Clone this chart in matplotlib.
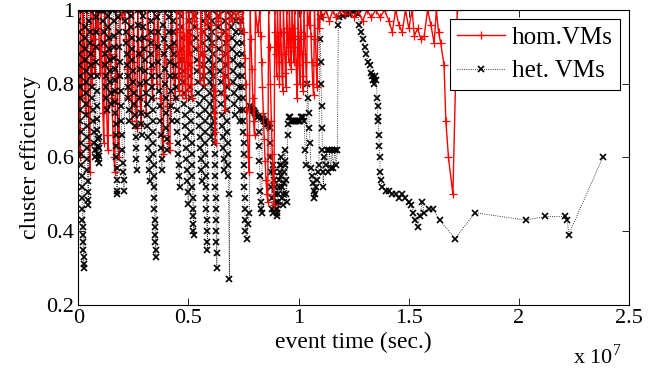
import numpy as np
import matplotlib
matplotlib.use('Agg')
import matplotlib.pyplot as plt
from matplotlib.ticker import FormatStrFormatter

plt.rcParams['font.family'] = ['Liberation Serif', 'DejaVu Serif']
plt.rcParams['mathtext.fontset'] = 'custom'
plt.rcParams['mathtext.rm'] = 'Liberation Serif'

# event time in units of 1e7 seconds, cluster efficiency
hom_early = [
    (0.000, 1.00), (0.002, 0.76), (0.004, 0.68), (0.006, 0.62), (0.008, 0.60), (0.010, 1.00),
    (0.014, 0.84), (0.018, 0.76), (0.022, 1.00), (0.026, 0.90), (0.030, 0.80), (0.034, 0.72),
    (0.038, 1.00), (0.042, 0.86), (0.046, 0.74), (0.050, 0.64), (0.053, 0.56), (0.056, 1.00),
    (0.060, 0.88), (0.064, 0.80), (0.068, 1.00), (0.072, 0.92), (0.076, 0.83), (0.080, 1.00),
    (0.085, 0.95), (0.090, 1.00), (0.095, 0.90), (0.100, 0.83), (0.104, 1.00), (0.108, 0.85),
    (0.112, 0.72), (0.116, 0.64), (0.120, 1.00), (0.124, 0.86), (0.128, 0.74), (0.132, 0.66),
    (0.136, 0.62), (0.140, 1.00), (0.146, 0.88), (0.152, 0.76), (0.158, 0.66), (0.162, 0.60),
    (0.166, 0.56), (0.170, 1.00), (0.175, 0.82), (0.180, 0.66), (0.185, 0.60), (0.190, 1.00),
    (0.200, 0.98), (0.210, 1.00), (0.218, 0.92), (0.222, 0.84), (0.226, 0.76), (0.230, 1.00),
    (0.235, 0.88), (0.240, 0.78), (0.245, 0.70), (0.250, 1.00), (0.255, 0.86), (0.260, 0.74),
    (0.265, 0.68), (0.270, 1.00), (0.275, 0.88), (0.280, 0.76), (0.285, 0.69), (0.290, 1.00),
    (0.296, 0.90), (0.302, 0.80), (0.308, 0.72), (0.314, 1.00), (0.322, 0.92), (0.330, 0.84),
    (0.338, 0.76), (0.344, 1.00), (0.350, 0.90), (0.356, 0.80), (0.362, 1.00), (0.368, 0.88),
    (0.374, 0.76), (0.380, 0.66), (0.386, 0.61), (0.392, 1.00), (0.398, 0.86), (0.404, 0.74),
    (0.410, 0.64), (0.416, 0.62), (0.422, 1.00), (0.428, 0.90), (0.434, 0.82), (0.440, 0.76),
]

hom_mid = [
    (0.446, 1.00), (0.449, 0.94), (0.452, 0.88), (0.455, 0.82), (0.458, 0.78), (0.461, 1.00),
    (0.464, 0.94), (0.467, 0.88), (0.470, 0.82), (0.473, 0.77), (0.476, 1.00), (0.479, 0.93),
    (0.482, 0.86), (0.485, 0.80), (0.488, 0.76), (0.491, 1.00), (0.494, 0.92), (0.497, 0.84),
    (0.500, 0.78), (0.503, 1.00), (0.506, 0.93), (0.509, 0.86), (0.512, 0.80), (0.515, 0.76),
    (0.518, 1.00), (0.526, 0.97), (0.534, 1.00), (0.540, 0.95), (0.544, 0.90), (0.548, 0.85),
    (0.552, 0.81), (0.556, 1.00), (0.560, 0.94), (0.564, 0.88), (0.568, 0.83), (0.572, 0.80),
    (0.576, 1.00), (0.586, 0.96), (0.596, 1.00), (0.604, 0.96), (0.608, 0.90), (0.611, 0.84),
    (0.614, 0.78), (0.617, 0.72), (0.620, 0.67), (0.623, 0.64), (0.626, 1.00), (0.636, 0.97),
    (0.646, 1.00), (0.650, 0.94), (0.654, 0.88), (0.658, 0.82), (0.662, 0.77), (0.666, 0.73),
    (0.670, 1.00), (0.674, 0.93), (0.678, 0.86), (0.682, 0.80), (0.686, 1.00), (0.696, 0.97),
    (0.706, 1.00), (0.716, 0.98), (0.726, 1.00), (0.736, 0.95), (0.746, 1.00), (0.752, 0.94),
    (0.756, 0.87), (0.760, 0.80), (0.764, 0.73), (0.768, 0.66), (0.772, 0.60), (0.776, 0.56),
    (0.780, 1.00), (0.784, 0.92), (0.788, 0.84), (0.792, 0.76), (0.796, 0.70), (0.800, 0.66),
    (0.804, 1.00), (0.814, 0.94), (0.824, 1.00), (0.828, 0.93), (0.832, 0.86), (0.836, 0.79),
    (0.840, 0.72), (0.844, 0.65), (0.848, 0.59), (0.852, 0.54), (0.856, 0.50), (0.860, 0.48),
    (0.864, 1.00), (0.868, 0.90), (0.872, 0.80), (0.876, 0.70), (0.880, 0.61), (0.884, 0.53),
    (0.888, 0.47), (0.892, 1.00), (0.895, 0.94), (0.898, 0.88), (0.901, 0.82), (0.904, 1.00),
    (0.907, 0.93), (0.910, 0.86), (0.913, 0.80), (0.916, 1.00), (0.919, 0.94), (0.922, 0.88),
    (0.925, 0.82), (0.928, 0.78), (0.931, 1.00), (0.934, 0.94), (0.937, 0.88), (0.940, 0.83),
    (0.943, 0.79), (0.946, 1.00), (0.949, 0.95), (0.952, 0.90), (0.955, 0.86), (0.958, 1.00),
    (0.961, 0.94), (0.964, 0.89), (0.967, 0.84), (0.970, 1.00), (0.973, 0.95), (0.976, 0.90),
    (0.979, 0.86), (0.982, 1.00), (0.985, 0.93), (0.988, 0.86), (0.991, 0.80), (0.994, 0.76),
    (0.997, 1.00), (1.000, 0.92), (1.003, 0.85), (1.006, 0.80), (1.009, 1.00), (1.012, 0.94),
    (1.015, 0.88), (1.018, 0.82), (1.021, 0.78), (1.024, 1.00), (1.028, 0.93), (1.032, 0.86),
    (1.036, 0.80), (1.040, 1.00), (1.046, 0.96), (1.052, 1.00), (1.056, 0.93), (1.060, 0.86),
    (1.064, 0.80), (1.068, 0.77), (1.072, 1.00), (1.076, 0.92), (1.080, 0.85), (1.084, 0.79),
    (1.088, 1.00), (1.094, 0.95), (1.100, 1.00),
]

hom_late = [
    (1.110, 0.98), (1.125, 1.00), (1.140, 0.97), (1.155, 1.00), (1.170, 0.98), (1.190, 1.00),
    (1.210, 0.99), (1.230, 1.00), (1.250, 0.98), (1.270, 1.00), (1.290, 0.97), (1.310, 1.00),
    (1.330, 0.98), (1.350, 1.00), (1.370, 0.98), (1.390, 1.00), (1.410, 0.97), (1.425, 0.94),
    (1.440, 1.00), (1.455, 0.96), (1.470, 0.94), (1.485, 1.00), (1.500, 0.95), (1.515, 1.00),
    (1.525, 0.93), (1.540, 0.95), (1.555, 0.92), (1.570, 0.93), (1.585, 1.00), (1.600, 0.96),
    (1.615, 0.91), (1.625, 1.00), (1.635, 0.94), (1.645, 0.91), (1.660, 0.85), (1.668, 0.70),
    (1.680, 0.60), (1.700, 0.50), (1.720, 1.00),
]

het_early = [
    (0.000, 1.00), (0.001, 0.97), (0.002, 0.94), (0.003, 0.91), (0.004, 0.88), (0.005, 0.85),
    (0.006, 0.82), (0.007, 0.79), (0.008, 0.76), (0.009, 0.73), (0.010, 0.70), (0.011, 0.67),
    (0.012, 0.64), (0.013, 0.61), (0.014, 0.58), (0.015, 0.55), (0.016, 0.52), (0.017, 0.49),
    (0.018, 0.46), (0.019, 0.43), (0.020, 0.41), (0.021, 0.39), (0.022, 0.37), (0.023, 0.35),
    (0.024, 0.33), (0.025, 0.31), (0.026, 0.30),
    (0.028, 1.00), (0.029, 0.955), (0.030, 0.925), (0.031, 0.895), (0.032, 0.865), (0.033, 0.835),
    (0.034, 0.805), (0.035, 0.775), (0.036, 0.745), (0.037, 0.715), (0.038, 0.685), (0.039, 0.655),
    (0.040, 0.625), (0.041, 0.595), (0.042, 0.565), (0.043, 0.535), (0.044, 0.505), (0.045, 0.485),
    (0.046, 0.47),
    (0.048, 1.00), (0.050, 0.97), (0.052, 0.94), (0.054, 0.91), (0.056, 0.88), (0.058, 0.85),
    (0.060, 0.82), (0.062, 0.79), (0.064, 0.76), (0.066, 0.73), (0.068, 0.70), (0.070, 0.67),
    (0.072, 0.64), (0.074, 0.62), (0.076, 0.60),
    (0.078, 1.00), (0.079, 0.98), (0.080, 0.94), (0.081, 0.90), (0.082, 0.86), (0.083, 0.82),
    (0.084, 0.78), (0.085, 0.74), (0.086, 0.705), (0.087, 0.675), (0.088, 0.65), (0.089, 0.63),
    (0.090, 0.61), (0.091, 0.595), (0.092, 0.585), (0.093, 0.605), (0.094, 0.625), (0.095, 0.655),
    (0.097, 1.00), (0.100, 1.00), (0.103, 1.00), (0.106, 1.00), (0.109, 1.00), (0.112, 1.00),
    (0.114, 0.97), (0.116, 0.94), (0.118, 0.91), (0.120, 0.88), (0.122, 0.85), (0.124, 0.82),
    (0.126, 0.79), (0.128, 0.76), (0.130, 0.73),
    (0.132, 1.00), (0.134, 0.985), (0.136, 0.955), (0.138, 0.925), (0.140, 0.895), (0.142, 0.865),
    (0.144, 0.835), (0.146, 0.805), (0.148, 0.775), (0.150, 0.745),
    (0.153, 1.00), (0.156, 1.00), (0.159, 1.00),
    (0.161, 0.97), (0.162, 0.93), (0.163, 0.90), (0.164, 0.87), (0.165, 0.84), (0.166, 0.81),
    (0.167, 0.78), (0.168, 0.75), (0.169, 0.72), (0.170, 0.69), (0.171, 0.66), (0.172, 0.63),
    (0.173, 0.60), (0.174, 0.57), (0.175, 0.54), (0.176, 0.51), (0.177, 0.50),
    (0.180, 1.00), (0.182, 0.98), (0.184, 0.94), (0.186, 0.90), (0.188, 0.86), (0.190, 0.82),
    (0.192, 0.78), (0.194, 0.74), (0.196, 0.70), (0.198, 0.66), (0.200, 0.62), (0.202, 0.585),
    (0.204, 0.56), (0.206, 0.54), (0.208, 0.51),
    (0.212, 1.00), (0.214, 0.97), (0.216, 0.94), (0.218, 0.91), (0.220, 0.88), (0.222, 0.85),
    (0.224, 0.82), (0.226, 0.79), (0.228, 0.76), (0.230, 0.73), (0.232, 0.70),
    (0.236, 1.00), (0.238, 0.985), (0.240, 0.955), (0.242, 0.925), (0.244, 0.895), (0.246, 0.865),
    (0.248, 0.835), (0.250, 0.805), (0.252, 0.775), (0.254, 0.745), (0.256, 0.715), (0.258, 0.685),
    (0.260, 0.655), (0.262, 0.625), (0.264, 0.595), (0.266, 0.565),
    (0.270, 1.00), (0.272, 0.96), (0.274, 0.92), (0.276, 0.88), (0.278, 0.84), (0.280, 0.80),
    (0.282, 0.76), (0.284, 0.72), (0.286, 0.69), (0.288, 0.66),
    (0.292, 1.00), (0.294, 0.985), (0.296, 0.955), (0.298, 0.925), (0.300, 0.895), (0.302, 0.865),
    (0.304, 0.835), (0.306, 0.805), (0.308, 0.775), (0.310, 0.745), (0.312, 0.715), (0.314, 0.685),
    (0.316, 0.655), (0.318, 0.625), (0.320, 0.595), (0.322, 0.565), (0.324, 0.535),
    (0.328, 1.00), (0.329, 0.97), (0.330, 0.94), (0.331, 0.91), (0.332, 0.88), (0.333, 0.85),
    (0.334, 0.82), (0.335, 0.79), (0.336, 0.76), (0.337, 0.73), (0.338, 0.70), (0.339, 0.67),
    (0.340, 0.64), (0.341, 0.61), (0.342, 0.58), (0.343, 0.55), (0.344, 0.52), (0.345, 0.49),
    (0.346, 0.46), (0.347, 0.43), (0.348, 0.41), (0.349, 0.39), (0.350, 0.37), (0.351, 0.35),
    (0.352, 0.33),
    (0.356, 1.00), (0.358, 0.98), (0.360, 0.94), (0.362, 0.90), (0.364, 0.86), (0.366, 0.82),
    (0.368, 0.78), (0.370, 0.74), (0.372, 0.70), (0.374, 0.66), (0.376, 0.625), (0.378, 0.595),
    (0.380, 0.565),
    (0.384, 1.00), (0.386, 0.96), (0.388, 0.92), (0.390, 0.88), (0.392, 0.84), (0.394, 0.80),
    (0.396, 0.76), (0.398, 0.72), (0.400, 0.68), (0.402, 0.65), (0.404, 0.62),
    (0.408, 1.00), (0.410, 0.98), (0.412, 0.94), (0.414, 0.90), (0.416, 0.86), (0.418, 0.82),
    (0.420, 0.78), (0.422, 0.74), (0.424, 0.70),
]

het_mid = [
    (0.428, 1.00), (0.430, 0.97), (0.432, 0.94), (0.434, 0.91), (0.436, 0.88), (0.438, 0.85),
    (0.440, 0.82), (0.442, 0.79), (0.444, 0.76), (0.446, 0.73), (0.448, 0.70), (0.450, 0.67),
    (0.452, 0.64), (0.454, 0.61), (0.456, 0.58), (0.458, 0.55), (0.460, 0.52),
    (0.463, 1.00), (0.465, 0.985), (0.467, 0.955), (0.469, 0.925), (0.471, 0.895), (0.473, 0.865),
    (0.475, 0.835), (0.477, 0.805), (0.479, 0.775), (0.481, 0.745), (0.483, 0.715), (0.485, 0.685),
    (0.487, 0.655), (0.489, 0.625), (0.491, 0.595), (0.493, 0.565), (0.495, 0.535), (0.497, 0.505),
    (0.499, 0.475),
    (0.502, 1.00), (0.503, 0.97), (0.504, 0.94), (0.505, 0.91), (0.506, 0.88), (0.507, 0.85),
    (0.508, 0.82), (0.509, 0.79), (0.510, 0.76), (0.511, 0.73), (0.512, 0.70), (0.513, 0.67),
    (0.514, 0.64), (0.515, 0.61), (0.516, 0.58), (0.517, 0.55), (0.518, 0.52), (0.519, 0.49),
    (0.520, 0.46), (0.521, 0.44), (0.522, 0.42), (0.523, 0.40), (0.524, 0.39),
    (0.528, 1.00), (0.530, 0.985), (0.532, 0.955), (0.534, 0.925), (0.536, 0.895), (0.538, 0.865),
    (0.540, 0.835), (0.542, 0.805), (0.544, 0.775), (0.546, 0.745), (0.548, 0.715), (0.550, 0.685),
    (0.552, 0.655), (0.554, 0.625), (0.556, 0.595), (0.558, 0.565), (0.560, 0.535),
    (0.564, 1.00), (0.565, 0.97), (0.566, 0.94), (0.567, 0.91), (0.568, 0.88), (0.569, 0.85),
    (0.570, 0.82), (0.571, 0.79), (0.572, 0.76), (0.573, 0.73), (0.574, 0.70), (0.575, 0.67),
    (0.576, 0.64), (0.577, 0.61), (0.578, 0.58), (0.579, 0.55), (0.580, 0.52), (0.581, 0.49),
    (0.582, 0.46), (0.583, 0.43), (0.584, 0.40), (0.585, 0.37), (0.586, 0.35),
    (0.590, 1.00), (0.591, 0.985), (0.592, 0.955), (0.593, 0.925), (0.594, 0.895), (0.595, 0.865),
    (0.596, 0.835), (0.597, 0.805), (0.598, 0.775), (0.599, 0.745), (0.600, 0.715), (0.601, 0.685),
    (0.602, 0.655),
    (0.606, 1.00), (0.607, 0.97), (0.608, 0.94), (0.609, 0.91), (0.610, 0.88), (0.611, 0.85),
    (0.612, 0.82), (0.613, 0.79), (0.614, 0.76), (0.615, 0.73), (0.616, 0.70), (0.617, 0.67),
    (0.618, 0.64), (0.619, 0.61), (0.620, 0.58), (0.621, 0.55), (0.622, 0.52), (0.623, 0.49),
    (0.624, 0.46), (0.625, 0.43), (0.626, 0.40), (0.627, 0.37), (0.628, 0.34), (0.629, 0.30),
    (0.632, 1.00), (0.634, 0.985), (0.636, 0.955), (0.638, 0.925), (0.640, 0.895), (0.642, 0.865),
    (0.644, 0.835), (0.646, 0.805), (0.648, 0.775), (0.650, 0.745), (0.652, 0.715), (0.654, 0.685),
    (0.656, 0.655), (0.658, 0.625), (0.660, 0.595), (0.662, 0.565),
    (0.666, 1.00), (0.667, 0.97), (0.668, 0.94), (0.669, 0.91), (0.670, 0.88), (0.671, 0.85),
    (0.672, 0.82), (0.673, 0.79), (0.674, 0.76), (0.675, 0.73), (0.676, 0.70), (0.677, 0.67),
    (0.678, 0.64), (0.679, 0.61), (0.680, 0.58), (0.681, 0.55), (0.682, 0.50), (0.686, 0.27),
    (0.690, 1.00), (0.692, 0.985), (0.694, 0.955), (0.696, 0.925), (0.698, 0.895), (0.700, 0.865),
    (0.702, 0.835), (0.704, 0.805), (0.706, 0.775), (0.708, 0.745), (0.710, 0.715),
    (0.714, 1.00), (0.716, 0.97), (0.718, 0.94), (0.720, 0.91), (0.722, 0.88), (0.724, 0.85),
    (0.726, 0.82), (0.728, 0.79), (0.730, 0.76), (0.732, 0.73), (0.734, 0.70),
    (0.738, 1.00), (0.739, 0.97), (0.740, 0.94), (0.741, 0.91), (0.742, 0.88), (0.743, 0.85),
    (0.744, 0.82), (0.745, 0.79), (0.746, 0.76), (0.747, 0.73), (0.748, 0.70), (0.749, 0.67),
    (0.750, 0.64), (0.751, 0.61), (0.752, 0.58), (0.753, 0.55), (0.754, 0.52), (0.755, 0.49),
    (0.756, 0.46), (0.757, 0.43), (0.758, 0.40), (0.764, 0.38), (0.770, 0.42), (0.776, 0.45),
    (0.780, 0.74), (0.784, 0.735), (0.788, 0.73), (0.792, 0.73), (0.796, 0.725), (0.800, 0.72),
    (0.804, 0.72), (0.808, 0.715), (0.812, 0.71), (0.816, 0.71), (0.818, 0.67), (0.820, 0.63),
    (0.822, 0.59), (0.824, 0.55), (0.826, 0.51), (0.828, 0.48), (0.830, 0.46), (0.832, 0.45),
    (0.836, 0.71), (0.840, 0.705), (0.844, 0.70), (0.848, 0.70), (0.852, 0.695), (0.856, 0.69),
    (0.860, 0.69), (0.864, 0.685), (0.868, 0.68), (0.870, 0.64), (0.872, 0.60), (0.874, 0.56),
    (0.876, 0.52), (0.878, 0.49), (0.880, 0.46), (0.882, 0.45),
    (0.886, 0.58), (0.888, 0.56), (0.890, 0.54), (0.892, 0.52), (0.894, 0.50), (0.896, 0.48),
    (0.898, 0.46), (0.900, 0.45), (0.902, 0.44), (0.904, 0.46), (0.906, 0.48), (0.908, 0.50),
    (0.910, 0.52), (0.912, 0.54), (0.914, 0.56), (0.916, 0.58), (0.918, 0.60), (0.920, 0.58),
    (0.922, 0.55), (0.924, 0.52), (0.926, 0.49), (0.928, 0.47), (0.930, 0.50), (0.932, 0.53),
    (0.934, 0.56), (0.936, 0.59), (0.938, 0.62), (0.940, 0.58), (0.942, 0.54), (0.944, 0.50),
    (0.946, 0.48),
    (0.950, 0.66), (0.953, 0.69), (0.956, 0.71), (0.960, 0.71), (0.965, 0.70), (0.970, 0.70),
    (0.975, 0.70), (0.980, 0.70), (0.985, 0.70), (0.990, 0.70), (0.995, 0.70), (1.000, 0.70),
    (1.005, 0.70), (1.010, 0.71), (1.015, 0.71), (1.020, 0.71),
]

het_late = [
    (1.025, 0.70), (1.030, 0.62), (1.035, 0.58), (1.040, 0.80), (1.043, 0.76), (1.046, 0.72),
    (1.049, 0.68), (1.052, 0.64), (1.056, 0.57), (1.060, 0.55), (1.064, 0.53), (1.068, 0.51),
    (1.072, 0.49), (1.076, 0.50), (1.080, 0.52), (1.084, 0.54), (1.088, 0.56), (1.092, 0.58),
    (1.096, 0.98), (1.098, 0.92), (1.100, 0.86), (1.102, 0.80), (1.104, 0.74), (1.106, 0.68),
    (1.108, 0.62), (1.110, 0.56), (1.112, 0.52), (1.116, 0.60), (1.122, 0.58), (1.128, 0.62),
    (1.134, 0.56), (1.140, 0.62), (1.146, 0.57), (1.152, 0.62), (1.158, 0.57), (1.164, 0.62),
    (1.170, 0.58), (1.176, 0.62), (1.180, 0.96), (1.185, 0.98), (1.200, 0.985), (1.215, 0.99),
    (1.230, 0.99), (1.245, 0.995), (1.260, 1.00), (1.270, 0.99), (1.275, 0.96), (1.283, 0.94),
    (1.291, 0.92), (1.299, 0.90), (1.307, 0.88), (1.315, 0.86), (1.323, 0.85), (1.328, 0.83),
    (1.333, 0.82), (1.338, 0.81), (1.343, 0.80), (1.348, 0.82), (1.353, 0.81), (1.356, 0.76),
    (1.358, 0.74), (1.360, 0.71), (1.362, 0.70), (1.364, 0.66), (1.366, 0.63), (1.368, 0.60),
    (1.370, 0.56), (1.372, 0.54), (1.380, 0.52), (1.395, 0.51), (1.410, 0.51), (1.425, 0.50),
    (1.440, 0.50), (1.455, 0.49), (1.470, 0.50), (1.485, 0.49), (1.500, 0.48), (1.510, 0.47),
    (1.520, 0.45), (1.530, 0.43), (1.540, 0.41), (1.550, 0.44), (1.560, 0.48), (1.570, 0.45),
    (1.590, 0.46), (1.610, 0.46), (1.640, 0.43), (1.710, 0.38), (1.800, 0.45), (2.030, 0.43),
    (2.120, 0.44), (2.210, 0.44), (2.220, 0.43), (2.225, 0.39), (2.380, 0.60),
]

x_ticks = [0, 0.5, 1, 1.5, 2, 2.5]
y_ticks = [0.2, 0.4, 0.6, 0.8, 1.0]

hom = np.array(hom_early + hom_mid + hom_late)
het = np.array(het_early + het_mid + het_late)

fig = plt.figure(figsize=(6.52, 3.70), dpi=100)
ax = fig.add_axes([0.12, 0.176, 0.845, 0.797])

hom_style = dict(color='red', linestyle='-', linewidth=1.0, marker='+',
                 markersize=6, markeredgewidth=0.9)
# early part sits under the het. markers, the rest shows on top of them
n_early = len(hom_early)
ax.plot(hom[:n_early + 1, 0], hom[:n_early + 1, 1], zorder=1, **hom_style)
ax.plot(hom[n_early:, 0], hom[n_early:, 1], zorder=3, label='hom.VMs', **hom_style)
ax.plot(het[:, 0], het[:, 1], color='black', linestyle=':', linewidth=0.6,
        marker='x', markersize=5, markeredgewidth=1.2, label='het. VMs', zorder=2)

ax.set_xlim(0, 2.5)
ax.set_ylim(0.2, 1.0)
ax.set_xticks(x_ticks)
ax.set_yticks(y_ticks)
ax.xaxis.set_major_formatter(FormatStrFormatter('%g'))
ax.yaxis.set_major_formatter(FormatStrFormatter('%g'))
ax.tick_params(direction='in', top=True, right=True, length=5, width=0.6,
               labelsize=16, pad=3)
for s in ax.spines.values():
    s.set_linewidth(0.8)
    s.set_zorder(4)

ax.set_xlabel('event time (sec.)', fontsize=17, labelpad=3)
ax.set_ylabel('cluster efficiency', fontsize=17, labelpad=4)
ax.text(0.985, -0.2, r'x 10$^{7}$', transform=ax.transAxes, ha='right',
        va='baseline', fontsize=16)

leg = ax.legend(loc='upper right', fontsize=18, handlelength=1.9,
                fancybox=False, framealpha=1, edgecolor='black',
                borderaxespad=0.35, borderpad=0.3, labelspacing=0.45,
                handletextpad=0.3)
leg.get_frame().set_linewidth(0.8)
leg.set_zorder(5)

fig.savefig('out.png', dpi=100)
